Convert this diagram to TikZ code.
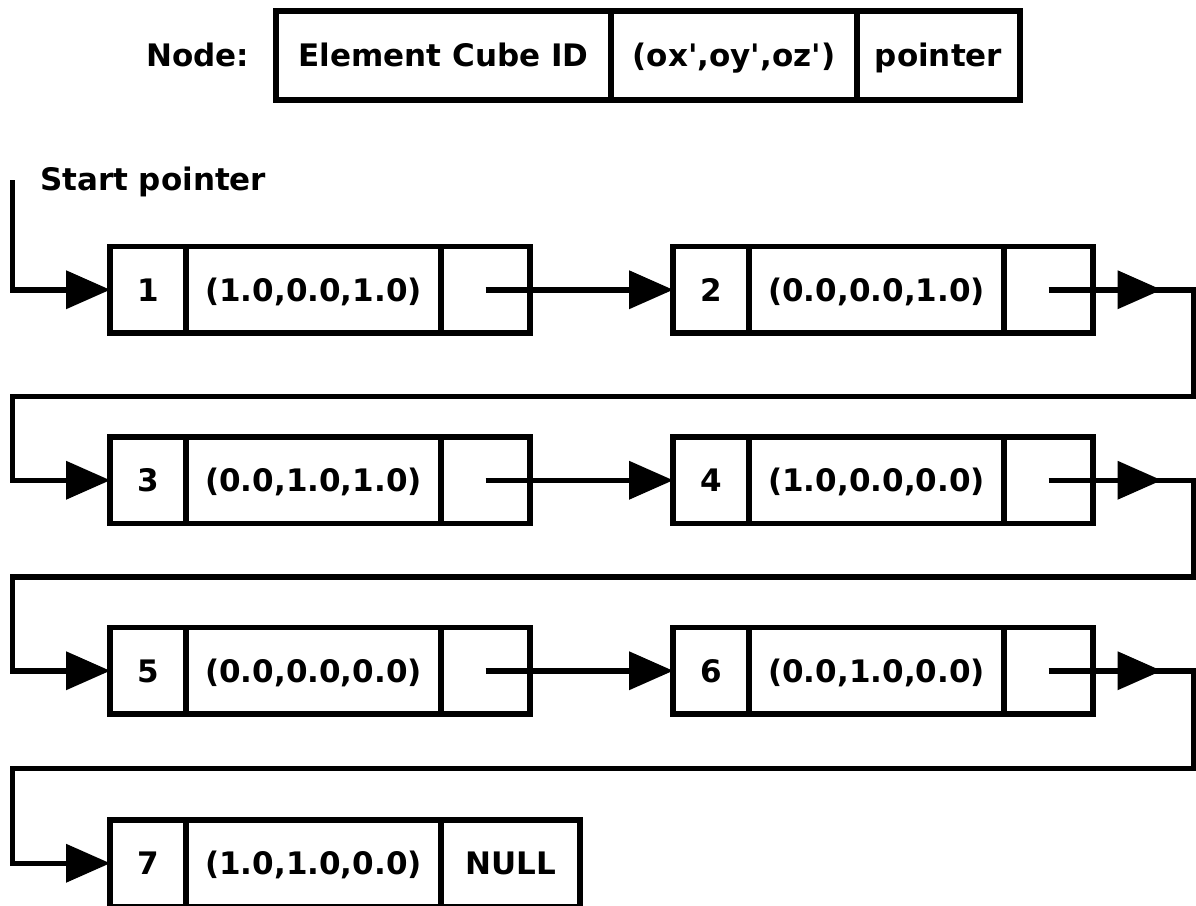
\documentclass[tikz,border=0pt]{standalone}
\usepackage{fontspec}
\setmainfont{DejaVu Sans}
\usetikzlibrary{arrows.meta,decorations.markings}

\begin{document}
\begin{tikzpicture}[x=1pt,y=-1pt,
  lbl/.style={font=\fontsize{31}{36}\selectfont\bfseries, inner sep=0pt, outer sep=0pt,
              text height=22.6pt, text depth=0pt},
  cell/.style={lbl, draw, line width=5.5pt, minimum height=86.5pt, anchor=west},
  hcell/.style={cell, minimum height=89pt},
  wire/.style={line width=5.5pt, line join=miter},
  head/.style={-{Triangle[length=44pt,width=39pt,line width=0pt]}},
  midhead/.style={postaction={decorate}, decoration={markings,
      mark=at position 113pt with {\arrow{Triangle[length=44pt,width=39pt,line width=0pt]}}}}
]
\useasboundingbox (0,0) rectangle (1196,905);

% record layout legend
\node[lbl, anchor=east] (legend) at (249,55.5) {Node:};
\node[hcell, minimum width=335pt] (h1) at (276,55.5) {Element Cube ID};
\node[hcell, minimum width=246pt] (h2) at (h1.east) {(ox\textquotesingle,oy\textquotesingle,oz\textquotesingle)};
\node[hcell, minimum width=163pt] (h3) at (h2.east) {pointer};

\node[lbl, anchor=west] (startlbl) at (40,179) {Start pointer};

% list records: id | offset | next
\node[cell, minimum width=76pt]  (n1a) at (110,289.75) {1};
\node[cell, minimum width=255pt] (n1b) at (n1a.east) {(1.0,0.0,1.0)};
\node[cell, minimum width=89pt]  (n1c) at (n1b.east) {};
\node[cell, minimum width=76pt]  (n2a) at (673,289.75) {2};
\node[cell, minimum width=255pt] (n2b) at (n2a.east) {(0.0,0.0,1.0)};
\node[cell, minimum width=89pt]  (n2c) at (n2b.east) {};

\node[cell, minimum width=76pt]  (n3a) at (110,480.25) {3};
\node[cell, minimum width=255pt] (n3b) at (n3a.east) {(0.0,1.0,1.0)};
\node[cell, minimum width=89pt]  (n3c) at (n3b.east) {};
\node[cell, minimum width=76pt]  (n4a) at (673,480.25) {4};
\node[cell, minimum width=255pt] (n4b) at (n4a.east) {(1.0,0.0,0.0)};
\node[cell, minimum width=89pt]  (n4c) at (n4b.east) {};

\node[cell, minimum width=76pt]  (n5a) at (110,670.75) {5};
\node[cell, minimum width=255pt] (n5b) at (n5a.east) {(0.0,0.0,0.0)};
\node[cell, minimum width=89pt]  (n5c) at (n5b.east) {};
\node[cell, minimum width=76pt]  (n6a) at (673,670.75) {6};
\node[cell, minimum width=255pt] (n6b) at (n6a.east) {(0.0,1.0,0.0)};
\node[cell, minimum width=89pt]  (n6c) at (n6b.east) {};

\node[cell, minimum width=76pt]  (n7a) at (110,863.25) {7};
\node[cell, minimum width=255pt] (n7b) at (n7a.east) {(1.0,1.0,0.0)};
\node[cell, minimum width=139pt] (n7c) at (n7b.east) {NULL};

% routing corners
\coordinate (start) at (12.5,180);
\coordinate (r1) at (1194,396.5);
\coordinate (l1) at (12.5,480.25);
\coordinate (r2) at (1194,577);
\coordinate (l2) at (12.5,670.75);
\coordinate (r3) at (1194,768.5);
\coordinate (l3) at (12.5,863.25);

% links
\draw[wire, head] (start) |- (n1a.west);
\draw[wire, head] (n1c.center) -- (n2a.west);
\draw[wire, head, midhead] (n2c.center) -| (r1) -| (l1) -- (n3a.west);
\draw[wire, head] (n3c.center) -- (n4a.west);
\draw[wire, head, midhead] (n4c.center) -| (r2) -| (l2) -- (n5a.west);
\draw[wire, head] (n5c.center) -- (n6a.west);
\draw[wire, head, midhead] (n6c.center) -| (r3) -| (l3) -- (n7a.west);
\end{tikzpicture}
\end{document}
